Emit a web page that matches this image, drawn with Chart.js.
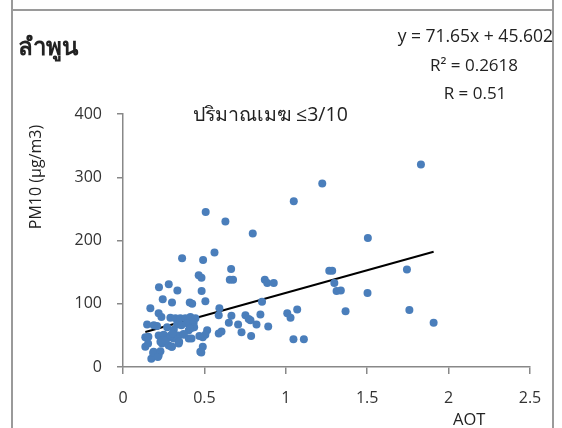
<!DOCTYPE html>
<html>
<head>
<meta charset="utf-8">
<script src="https://cdn.jsdelivr.net/npm/chart.js@4/dist/chart.umd.min.js"></script>
<style>
  html, body { margin:0; padding:0; background:#fff; }
  #wrap { position:relative; width:562px; height:428px; overflow:hidden; font-family:"Open Sans","Noto Sans","DejaVu Sans",sans-serif; color:#222; }
  #frame { position:absolute; left:11px; top:9px; width:543px; height:440px; border:2px solid #9a9a9a; box-sizing:border-box; }
  #vtop1 { position:absolute; left:11px; top:0; width:2px; height:10px; background:#9a9a9a; }
  #vtop2 { position:absolute; left:552px; top:0; width:2px; height:10px; background:#9a9a9a; }
  canvas { position:absolute; left:0; top:0; }
  .t { position:absolute; white-space:nowrap; }
  .c { transform:translateX(-50%); }
</style>
</head>
<body>
<div id="wrap">
  <div id="vtop1"></div><div id="vtop2"></div>
  <div id="frame"></div>
  <canvas id="c" width="562" height="428"></canvas>
  <div class="t" id="title" style="left:18px; top:27px; font-size:24px; font-weight:bold;">ลำพูน</div>
  <div class="t" style="right:9px; top:23px; font-size:17.5px;">y = 71.65x + 45.602</div>
  <div class="t c" style="left:474px; top:53px; font-size:17px;">R² = 0.2618</div>
  <div class="t c" style="left:475px; top:81px; font-size:17px;">R = 0.51</div>
  <div class="t" style="left:193px; top:99px; font-size:19.5px;">ปริมาณเมฆ ≤3/10</div>
  <div class="t" style="left:35px; top:177px; font-size:16px; transform:translate(-50%,-50%) rotate(-90deg);">PM10 (µg/m3)</div>
  <div class="t" style="left:453px; top:407px; font-size:16.5px;">AOT</div>
</div>
<script>
const aot  = [1.830,1.224,1.049,0.508,0.629,0.797,1.504,0.562,0.363,0.492,0.664,1.744,1.267,1.285,0.465,0.482,0.656,0.676,0.871,0.886,0.926,1.298,0.221,0.281,0.334,0.483,1.312,1.338,1.502,0.244,0.301,0.410,0.425,0.506,0.854,0.168,0.592,1.070,1.759,1.367,1.009,1.029,0.588,0.666,0.752,0.772,0.783,0.844,0.650,0.707,0.728,0.820,0.787,0.892,1.908,1.047,1.111,
  0.219,0.236,0.291,0.322,0.352,0.383,0.414,0.445,0.148,0.209,0.271,0.332,0.394,0.434,0.424,0.404,0.219,0.250,0.281,0.311,0.342,0.373,0.404,0.137,0.137,0.154,0.240,0.240,0.281,0.301,0.342,0.188,0.219,0.174,0.475,0.517,0.506,0.490,0.469,0.588,0.605,0.490,0.481,
  0.312,0.359,0.372,0.421,0.437,0.411,0.156,0.185,0.230,0.214,0.230,0.263,0.298,0.345,0.306,0.292,0.189,0.304];
const pm10 = [320,290,262,245,230,211,204,181,172,169,155,154,152,152,145,141,138,138,138,133,133,133,126,131,121,120,120,121,117,107,102,102,100,104,103,93,93,91,90,88,85,78,82,81,82,76,74,83,70,67,55,67,49,64,70,44,44,
  85,79,78,77,77,77,79,77,67,65,63,67,69,70,62,58,50,51,47,45,50,51,45,47,32,37,42,37,34,32,37,24,18,13,24,58,51,47,49,53,56,32,23,
  59,66,52,45,63,61,48,22,25,16,40,42,32,40,48,50,66,53];
const xTicks = [0, 0.5, 1, 1.5, 2, 2.5];
const yTicks = [0, 100, 200, 300, 400];
const slope = 71.65, intercept = 45.602;

const pts = aot.map((x, i) => ({ x: x, y: pm10[i] }));
const xmin = Math.min(...aot), xmax = Math.max(...aot);
const fit = [{ x: xmin, y: slope * xmin + intercept }, { x: xmax, y: slope * xmax + intercept }];

const tickFont = { family: "'Open Sans','Noto Sans',sans-serif", size: 16 };
new Chart(document.getElementById('c'), {
  type: 'scatter',
  data: { datasets: [
    { data: pts, backgroundColor: '#4a7ebb', borderColor: '#4a7ebb', pointRadius: 4, pointHoverRadius: 4, borderWidth: 0 },
    { type: 'line', data: fit, borderColor: '#000', borderWidth: 2, pointRadius: 0, fill: false }
  ]},
  options: {
    responsive: false, animation: false, events: [],
    layout: { padding: { top: 114, right: 32, left: 0, bottom: 0 } },
    plugins: { legend: { display: false }, tooltip: { enabled: false } },
    scales: {
      x: {
        type: 'linear', min: 0, max: 2.5,
        afterBuildTicks: s => { s.ticks = xTicks.map(v => ({ value: v })); },
        afterFit: s => { s.height = 61; },
        ticks: { color: '#333', font: tickFont, padding: 15, callback: v => String(v) },
        grid: { drawOnChartArea: false, tickLength: 7, color: '#888', lineWidth: 1.5 },
        border: { color: '#888', width: 1.5 }
      },
      y: {
        type: 'linear', min: 0, max: 400,
        afterBuildTicks: s => { s.ticks = yTicks.map(v => ({ value: v })); },
        afterFit: s => { s.width = 123; },
        ticks: { color: '#333', font: tickFont, padding: 15, callback: v => String(v) },
        grid: { drawOnChartArea: false, tickLength: 6, color: '#888', lineWidth: 1.5 },
        border: { color: '#888', width: 1.5 }
      }
    }
  }
});
</script>
</body>
</html>
